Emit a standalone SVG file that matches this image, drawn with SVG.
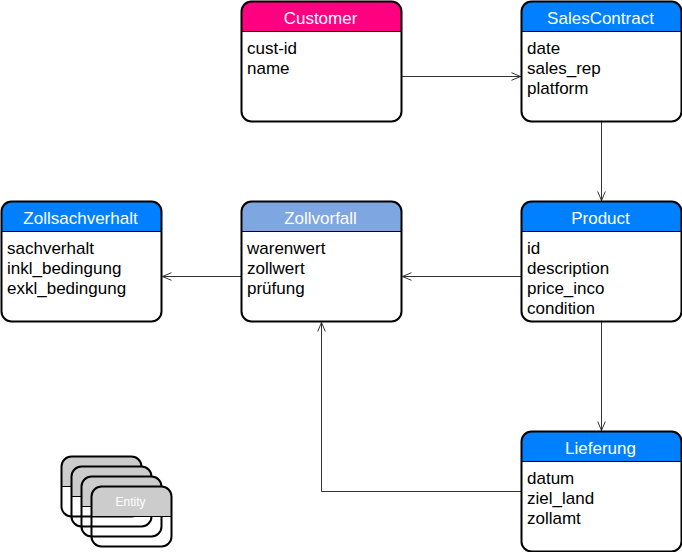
<svg xmlns="http://www.w3.org/2000/svg" width="682" height="552" viewBox="0 0 682 552">
<style>
text{font-family:"Liberation Sans",Arial,Helvetica,sans-serif}
.body{fill:#fff;stroke:none}
.outline{fill:none;stroke:#000;stroke-width:2}
.div{stroke:#000;stroke-width:1;fill:none}
.title{fill:#fff;font-size:17px;text-anchor:middle}
.attr{fill:#000;font-size:17px}
.conn{fill:none;stroke:#333;stroke-width:1;marker-end:url(#arrow)}
.blue{fill:#007fff}
</style>
<defs>
<marker id="arrow" markerUnits="userSpaceOnUse" markerWidth="12" markerHeight="12" refX="10" refY="5" orient="auto" overflow="visible">
<path d="M0.5 1.2L9.5 5L0.5 8.8" fill="none" stroke="#333" stroke-width="1"/>
</marker>
<g id="stackbox">
<path d="M0 30V10Q0 0 10 0H70Q80 0 80 10V30Z" fill="#ccc"/>
<path d="M0 30H80" fill="none" stroke="#000" stroke-width="1"/>
<rect width="80" height="60" rx="10" ry="10" fill="none" stroke="#000" stroke-width="2"/>
</g>
</defs>
<rect width="682" height="552" fill="#fff"/>
<g id="connectors">
<path class="conn" d="M401.500 76.500H521"/>
<path class="conn" d="M601.500 121.500V201"/>
<path class="conn" d="M521.500 276.500H402"/>
<path class="conn" d="M241.500 276.500H162"/>
<path class="conn" d="M601.500 321.500V431"/>
<path class="conn" d="M521.500 491.500H321.500V322"/>
</g>
<g id="customer" transform="translate(241.500 1.500)">
<rect class="body" width="160" height="120" rx="10"/>
<path d="M0 30V10Q0 0 10 0H150Q160 0 160 10V30Z" fill="#ff0080"/>
<path class="div" d="M0 30H160"/>
<rect class="outline" width="160" height="120" rx="10"/>
<text class="title" x="79" y="22">Customer</text>
<text class="attr" x="5.500" y="52.500">cust-id</text>
<text class="attr" x="5.500" y="72.500">name</text>
</g>
<g id="salescontract" transform="translate(521.500 1.500)">
<rect class="body" width="160" height="120" rx="10"/>
<path class="blue" d="M0 30V10Q0 0 10 0H150Q160 0 160 10V30Z"/>
<path class="div" d="M0 30H160"/>
<rect class="outline" width="160" height="120" rx="10"/>
<text class="title" x="79" y="22">SalesContract</text>
<text class="attr" x="5.500" y="52.500">date</text>
<text class="attr" x="5.500" y="72.500">sales_rep</text>
<text class="attr" x="5.500" y="92.500">platform</text>
</g>
<g id="product" transform="translate(521.500 201.500)">
<rect class="body" width="160" height="120" rx="10"/>
<path class="blue" d="M0 30V10Q0 0 10 0H150Q160 0 160 10V30Z"/>
<path class="div" d="M0 30H160"/>
<rect class="outline" width="160" height="120" rx="10"/>
<text class="title" x="79" y="22">Product</text>
<text class="attr" x="5.500" y="52.500">id</text>
<text class="attr" x="5.500" y="72.500">description</text>
<text class="attr" x="5.500" y="92.500">price_inco</text>
<text class="attr" x="5.500" y="112.500">condition</text>
</g>
<g id="zollvorfall" transform="translate(241.500 201.500)">
<rect class="body" width="160" height="120" rx="10"/>
<path d="M0 30V10Q0 0 10 0H150Q160 0 160 10V30Z" fill="#7ea6e0"/>
<path class="div" d="M0 30H160"/>
<rect class="outline" width="160" height="120" rx="10"/>
<text class="title" x="79" y="22">Zollvorfall</text>
<text class="attr" x="5.500" y="52.500">warenwert</text>
<text class="attr" x="5.500" y="72.500">zollwert</text>
<text class="attr" x="5.500" y="92.500">prüfung</text>
</g>
<g id="zollsachverhalt" transform="translate(1.500 201.500)">
<rect class="body" width="160" height="120" rx="10"/>
<path class="blue" d="M0 30V10Q0 0 10 0H150Q160 0 160 10V30Z"/>
<path class="div" d="M0 30H160"/>
<rect class="outline" width="160" height="120" rx="10"/>
<text class="title" x="79" y="22">Zollsachverhalt</text>
<text class="attr" x="5.500" y="52.500">sachverhalt</text>
<text class="attr" x="5.500" y="72.500">inkl_bedingung</text>
<text class="attr" x="5.500" y="92.500">exkl_bedingung</text>
</g>
<g id="lieferung" transform="translate(521.500 431.500)">
<rect class="body" width="160" height="120" rx="10"/>
<path class="blue" d="M0 30V10Q0 0 10 0H150Q160 0 160 10V30Z"/>
<path class="div" d="M0 30H160"/>
<rect class="outline" width="160" height="120" rx="10"/>
<text class="title" x="79" y="22">Lieferung</text>
<text class="attr" x="5.500" y="52.500">datum</text>
<text class="attr" x="5.500" y="72.500">ziel_land</text>
<text class="attr" x="5.500" y="92.500">zollamt</text>
</g>
<g id="entity-stack">
<use href="#stackbox" x="61.500" y="456.500"/>
<use href="#stackbox" x="71.500" y="466.500"/>
<use href="#stackbox" x="81.500" y="476.500"/>
<use href="#stackbox" x="91.500" y="486.500"/>
<text x="130.500" y="506" fill="#fff" font-size="12" text-anchor="middle">Entity</text>
</g>
</svg>
